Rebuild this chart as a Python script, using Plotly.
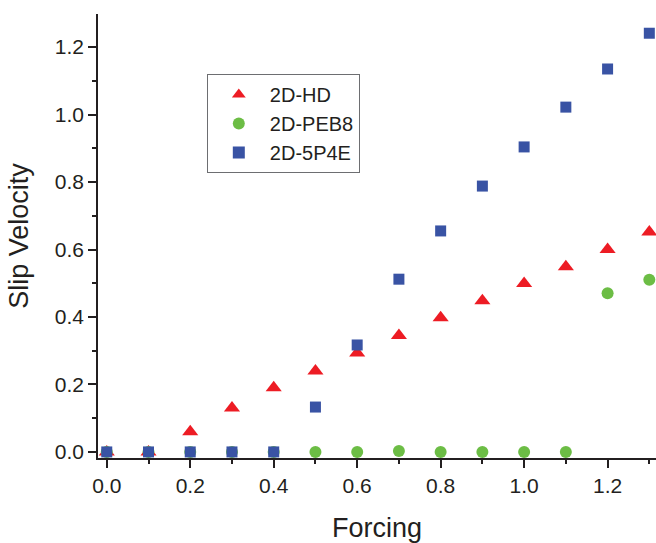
import plotly.graph_objects as go

forcing = [0.0, 0.1, 0.2, 0.3, 0.4, 0.5, 0.6, 0.7, 0.8, 0.9, 1.0, 1.1, 1.2, 1.3]
slip_hd = [0.0, 0.0, 0.06, 0.13, 0.19, 0.24, 0.293, 0.345, 0.398, 0.448, 0.499, 0.549, 0.60, 0.652]
slip_peb8 = [0.0, 0.0, 0.0, 0.0, 0.0, 0.0, 0.0, 0.003, 0.0, 0.0, 0.0, 0.0, 0.47, 0.51]
slip_5p4e = [0.0, 0.0, 0.0, 0.0, 0.0, 0.133, 0.317, 0.512, 0.655, 0.788, 0.904, 1.022, 1.135, 1.241]

series = [
    ("2D-HD", slip_hd, "triangle-up", "#ED1C24", 14),
    ("2D-PEB8", slip_peb8, "circle", "#6CBD45", 12),
    ("2D-5P4E", slip_5p4e, "square", "#3953A4", 11),
]

fig = go.Figure()
for name, vals, sym, col, size in series:
    fig.add_trace(go.Scatter(
        x=forcing, y=vals, mode="markers", name=name,
        marker=dict(symbol=sym, color=col, size=size, line=dict(width=0)),
        cliponaxis=False,
    ))

axis_common = dict(
    showgrid=False, zeroline=False, showline=True, linecolor="#231F20",
    linewidth=1.5, ticks="outside", ticklen=8, tickwidth=1.5, tickcolor="#231F20",
    tickfont=dict(family="Liberation Sans, Arial", size=21, color="#231F20"),
    tickformat=".1f", mirror=False, automargin=False,
)

fig.update_layout(
    width=656, height=543,
    margin=dict(l=98, r=0, t=14, b=85),
    paper_bgcolor="white", plot_bgcolor="white",
    font=dict(family="Liberation Sans, Arial", color="#231F20"),
    xaxis=dict(
        range=[-0.021, 1.316], tick0=0, dtick=0.2,
        minor=dict(tick0=0, dtick=0.1, ticks="outside", ticklen=4, tickwidth=1.5, tickcolor="#231F20"),
        title=dict(text="Forcing", font=dict(size=27), standoff=36),
        **axis_common,
    ),
    yaxis=dict(
        range=[-0.018, 1.298], tick0=0, dtick=0.2,
        minor=dict(tick0=0, dtick=0.1, ticks="outside", ticklen=4, tickwidth=1.5, tickcolor="#231F20"),
        title=dict(text="Slip Velocity", font=dict(size=27), standoff=18),
        **axis_common,
    ),
    legend=dict(
        x=0.195, y=0.865, xanchor="left", yanchor="top",
        bordercolor="#6D6E71", borderwidth=1, bgcolor="white",
        font=dict(size=20, color="#231F20"),
        itemsizing="constant", itemwidth=52, tracegroupgap=0,
    ),
    showlegend=True,
)

fig.write_html("out.html")
